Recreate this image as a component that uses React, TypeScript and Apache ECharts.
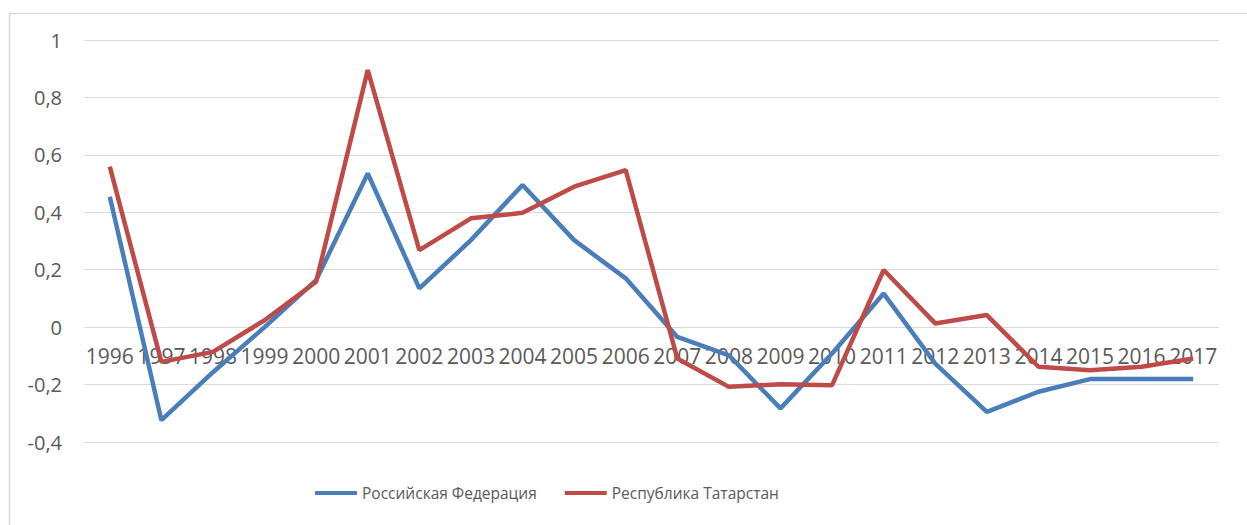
import React, { useEffect, useRef } from "react";
import * as echarts from "echarts";

const years = ["1996","1997","1998","1999","2000","2001","2002","2003","2004","2005","2006","2007","2008","2009","2010","2011","2012","2013","2014","2015","2016","2017"];
const russia = [0.454,-0.324,-0.157,0.0,0.164,0.535,0.135,0.303,0.495,0.303,0.17,-0.034,-0.098,-0.283,-0.092,0.117,-0.127,-0.295,-0.225,-0.181,-0.181,-0.181];
const tatarstan = [0.559,-0.121,-0.086,0.024,0.158,0.895,0.268,0.379,0.398,0.489,0.547,-0.109,-0.208,-0.199,-0.202,0.199,0.013,0.042,-0.138,-0.15,-0.138,-0.109];
const seriesNames = ["Российская Федерация", "Республика Татарстан"];
const colors = ["#4A7EBB", "#BE4B48"];

const FONT = "'Open Sans', 'Liberation Sans', sans-serif";

export default function App() {
  const ref = useRef<HTMLDivElement>(null);
  useEffect(() => {
    if (!ref.current) return;
    const chart = echarts.init(ref.current, null, { renderer: "svg" });
    chart.setOption({
      animation: false,
      backgroundColor: "#ffffff",
      color: colors,
      graphic: [
        {
          type: "rect",
          left: 7,
          top: 11,
          shape: { x: 0, y: 0, width: 1260, height: 540, r: 0 },
          style: { fill: "none", stroke: "#d9d9d9", lineWidth: 1.5 },
          silent: true,
          z: -10,
        },
      ],
      grid: { left: 84, right: 28, top: 40, bottom: 83, containLabel: false },
      legend: {
        left: 310,
        top: 480,
        itemWidth: 42,
        itemHeight: 4,
        itemGap: 28,
        icon: "rect",
        textStyle: { fontFamily: FONT, fontSize: 15.5, color: "#595959" },
        data: seriesNames,
      },
      xAxis: {
        type: "category",
        data: years,
        boundaryGap: true,
        position: "bottom",
        offset: -115,
        axisLine: { show: false, onZero: false },
        axisTick: { show: false },
        axisLabel: {
          interval: 0,
          margin: 18,
          fontFamily: FONT,
          fontSize: 21,
          color: "#595959",
        },
        splitLine: { show: false },
      },
      yAxis: {
        type: "value",
        min: -0.4,
        max: 1,
        interval: 0.2,
        axisLine: { show: false },
        axisTick: { show: false },
        axisLabel: {
          margin: 22,
          fontFamily: FONT,
          fontSize: 20,
          color: "#595959",
          formatter: (v: number) => {
            const r = Math.round(v * 10) / 10;
            return String(r).replace(".", ",");
          },
        },
        splitLine: { lineStyle: { color: "#d9d9d9", width: 1 } },
      },
      series: [
        {
          name: seriesNames[0],
          type: "line",
          data: russia,
          symbol: "none",
          lineStyle: { width: 4.5, color: colors[0] },
          itemStyle: { color: colors[0] },
        },
        {
          name: seriesNames[1],
          type: "line",
          data: tatarstan,
          symbol: "none",
          lineStyle: { width: 4.5, color: colors[1] },
          itemStyle: { color: colors[1] },
        },
      ],
    });
    return () => chart.dispose();
  }, []);
  return (
    <div
      ref={ref}
      style={{ position: "fixed", left: 0, top: 0, width: 1247, height: 525 }}
    />
  );
}
